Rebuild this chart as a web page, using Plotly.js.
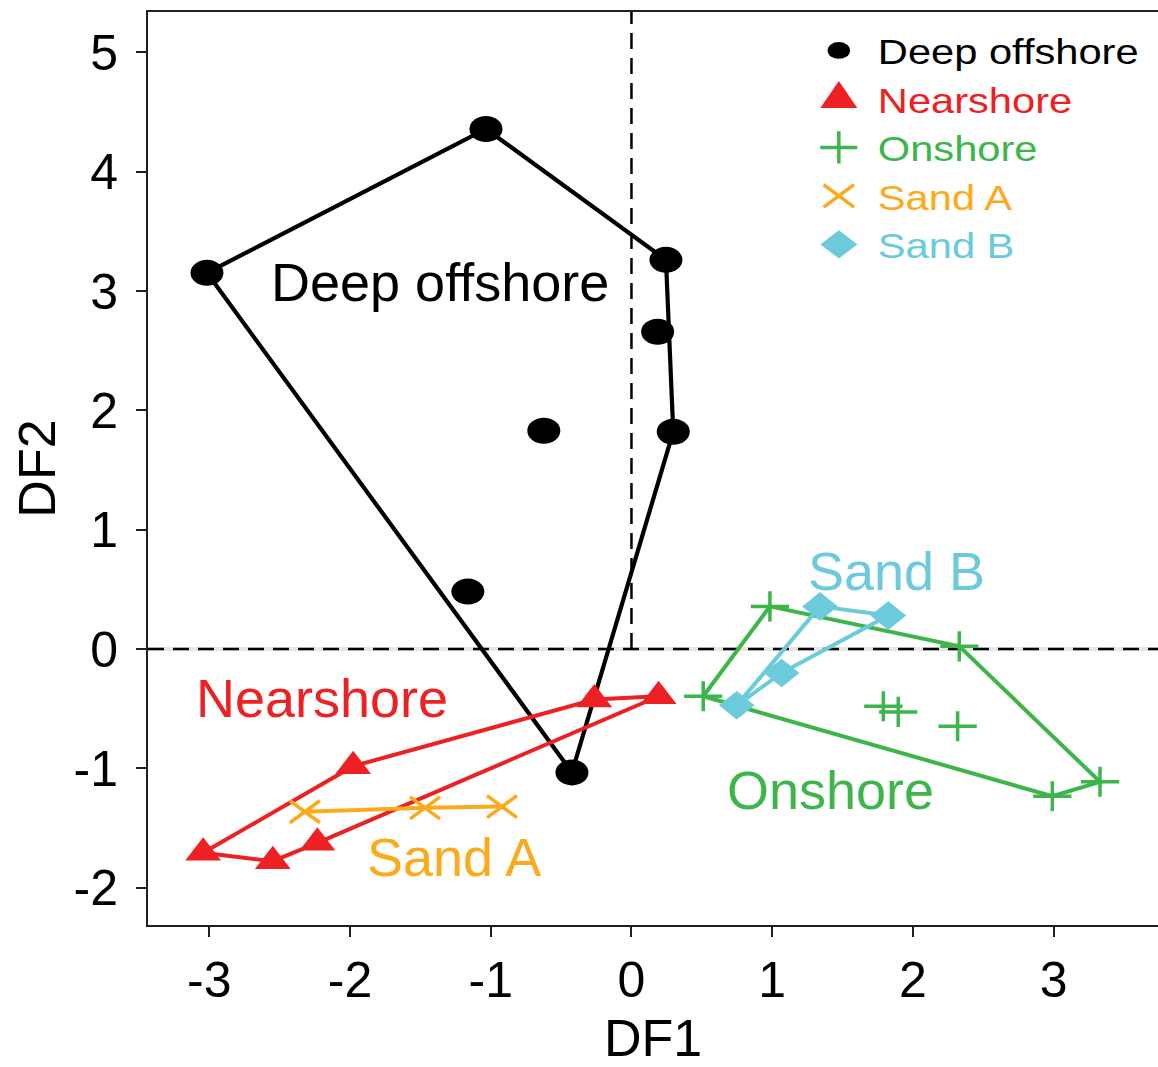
<!DOCTYPE html>
<html>
<head>
<meta charset="utf-8">
<script src="https://cdn.plot.ly/plotly-3.0.1.min.js"></script>
<style>
  html, body { margin: 0; padding: 0; background: #fff; }
  #chart { width: 1158px; height: 1067px; }
</style>
</head>
<body>
<div id="chart"></div>
<script>
// Discriminant function scores (DF1, DF2) per depositional setting
const deepX = [-3.017, -1.034, 0.245, 0.186, 0.297, -0.623, -1.163, -0.423];
const deepY = [3.153, 4.359, 3.262, 2.659, 1.822, 1.830, 0.482, -1.033];
const deepHull = [0, 1, 2, 4, 7, 0];

const nearX = [0.193, -0.264, -1.978, -3.044, -2.549, -2.232];
const nearY = [-0.395, -0.423, -0.981, -1.707, -1.777, -1.623];
const nearHull = [0, 1, 2, 3, 4, 5, 0];

const onX = [0.510, 0.984, 2.330, 3.330, 2.991, 1.790, 1.896, 2.318];
const onY = [-0.395, 0.358, 0.023, -1.112, -1.233, -0.479, -0.526, -0.647];
const onHull = [0, 1, 2, 3, 4, 0];

const sandAX = [-2.321, -1.467, -0.920];
const sandAY = [-1.363, -1.330, -1.320];
const sandAHull = [0, 1, 2];

const sandBX = [1.340, 1.825, 1.067, 0.748];
const sandBY = [0.358, 0.281, -0.200, -0.471];
const sandBHull = [0, 1, 2, 3, 0];

const groupNames = ['Deep offshore', 'Nearshore', 'Onshore', 'Sand A', 'Sand B'];
const xTicks = [-3, -2, -1, 0, 1, 2, 3];
const xTickText = ['-3', '-2', '-1', '0', '1', '2', '3'];
const yTicks = [-2, -1, 0, 1, 2, 3, 4, 5];
const yTickText = ['-2', '-1', '0', '1', '2', '3', '4', '5'];

const FONT = 'Liberation Sans, Arial, Helvetica, sans-serif';
const colors = {
  deep: '#000000',
  near: '#ED2024',
  on: '#3DB54A',
  sandA: '#FBAA1B',
  sandB: '#6BCBDA'
};

function pick(arr, idx) { return idx.map(i => arr[i]); }

function hullTrace(xs, ys, idx, color, width) {
  return {
    type: 'scatter', mode: 'lines',
    x: pick(xs, idx), y: pick(ys, idx),
    line: { color: color, width: width },
    showlegend: false, hoverinfo: 'skip'
  };
}

function pointTrace(xs, ys, name, color, symbol, size, lineWidth) {
  return {
    type: 'scatter', mode: 'markers',
    x: xs, y: ys,
    name: '<span style="color:' + color + '">' + name + '</span>',
    marker: {
      color: color, symbol: symbol, size: size,
      line: { color: color, width: lineWidth }
    }
  };
}

const traces = [
  hullTrace(deepX, deepY, deepHull, colors.deep, 4.2),
  hullTrace(nearX, nearY, nearHull, colors.near, 4),
  hullTrace(onX, onY, onHull, colors.on, 4),
  hullTrace(sandAX, sandAY, sandAHull, colors.sandA, 4),
  hullTrace(sandBX, sandBY, sandBHull, colors.sandB, 4),
  pointTrace(deepX, deepY, groupNames[0], colors.deep, 'circle', 26, 0),
  pointTrace(nearX, nearY, groupNames[1], colors.near, 'triangle-up', 31, 0),
  pointTrace(onX, onY, groupNames[2], colors.on, 'cross-thin', 21.5, 3.5),
  pointTrace(sandAX, sandAY, groupNames[3], colors.sandA, 'x-thin', 22, 3.5),
  pointTrace(sandBX, sandBY, groupNames[4], colors.sandB, 'diamond', 22, 0)
];

// group labels placed next to each cluster
const labelText = ['Deep offshore', 'Nearshore', 'Onshore', 'Sand A', 'Sand B'];
const labelX = [-1.361, -2.201, 1.414, -1.262, 1.883];
const labelY = [3.078, -0.406, -1.181, -1.738, 0.657];
const labelColor = [colors.deep, colors.near, colors.on, colors.sandA, colors.sandB];

const annotations = labelText.map((t, i) => ({
  x: labelX[i], y: labelY[i], xref: 'x', yref: 'y',
  text: t, showarrow: false,
  xanchor: 'center', yanchor: 'middle',
  font: { family: FONT, size: 54, color: labelColor[i] }
}));

const axisCommon = {
  showgrid: false, zeroline: false,
  showline: true, linecolor: '#231f20', linewidth: 2,
  ticks: 'outside', ticklen: 10, tickwidth: 2, tickcolor: '#231f20',
  tickfont: { family: FONT, size: 50, color: '#000' },
  tickmode: 'array',
  automargin: false
};

const xRange = [-3.436, 3.742];
const yRange = [-2.312, 5.339];

const layout = {
  width: 1158, height: 1067,
  margin: { l: 148, r: 0, t: 12, b: 142 },
  paper_bgcolor: '#fff', plot_bgcolor: '#fff',
  font: { family: FONT, color: '#000' },
  xaxis: Object.assign({}, axisCommon, {
    range: xRange, tickvals: xTicks, ticktext: xTickText, mirror: true,
    ticklabelstandoff: 0,
    title: { text: 'DF1', font: { family: FONT, size: 52, color: '#000' }, standoff: 25 }
  }),
  yaxis: Object.assign({}, axisCommon, {
    range: yRange, tickvals: yTicks, ticktext: yTickText,
    ticklabelstandoff: 8,
    title: { text: 'DF2', font: { family: FONT, size: 52, color: '#000' }, standoff: 1 }
  }),
  shapes: [
    { type: 'line', xref: 'paper', yref: 'y', x0: 0, x1: 1, y0: 0, y1: 0,
      line: { color: '#e6e6e6', width: 4 }, layer: 'below' },
    { type: 'line', xref: 'paper', yref: 'y', x0: 0, x1: 1, y0: 0, y1: 0,
      line: { color: '#000', width: 2.5, dash: '16px,9px' }, layer: 'below' },
    { type: 'line', xref: 'x', yref: 'paper', x0: 0, x1: 0, y0: (0 - yRange[0]) / (yRange[1] - yRange[0]), y1: 1,
      line: { color: '#000', width: 2.5, dash: '16px,9px' }, layer: 'below' }
  ],
  annotations: annotations,
  legend: {
    x: 0.683, xanchor: 'left', y: 0.99, yanchor: 'top',
    bgcolor: 'rgba(0,0,0,0)', borderwidth: 0,
    font: { family: FONT, size: 35, color: '#000' },
    tracegroupgap: 0
  },
  showlegend: true
};

// symbol shaping (x, y scale) for plotted markers, by trace index
const pointShape = { 5: [1.27, 1], 6: [1, 1], 7: [1.27, 1], 8: [1.36, 1], 9: [1.25, 1] };
// legend symbol shaping relative to the 16px legend marker
const legendShape = [[1.4, 1.06], [2.0, 2.25], [1.65, 1.43], [1.9, 1.4], [1.78, 1.35]];
const legendTextStretch = 1.19;

Plotly.newPlot('chart', traces, layout, { displayModeBar: false, staticPlot: true }).then(gd => {
  // widen plotted symbols
  gd.querySelectorAll('.scatterlayer .trace').forEach((g, i) => {
    const sc = pointShape[i];
    if (!sc) return;
    g.querySelectorAll('path.point').forEach(p => {
      const tr = p.getAttribute('transform') || '';
      p.setAttribute('transform', tr + ' scale(' + sc[0] + ',' + sc[1] + ')');
      p.style.vectorEffect = 'non-scaling-stroke';
    });
  });
  // legend: no clipping, larger symbols, wider text
  gd.querySelectorAll('.legend [clip-path]').forEach(e => e.removeAttribute('clip-path'));
  gd.querySelectorAll('.legend .traces').forEach((item, i) => {
    const sc = legendShape[i] || [1, 1];
    item.querySelectorAll('.legendpoints path.scatterpts').forEach(p => {
      const tr = p.getAttribute('transform') || '';
      p.setAttribute('transform', 'translate(-19,0) ' + tr + ' scale(' + sc[0] + ',' + sc[1] + ')');
      p.style.vectorEffect = 'non-scaling-stroke';
    });
    item.querySelectorAll('text.legendtext').forEach(t => {
      const x0 = parseFloat(t.getAttribute('x')) || 0;
      const tr = t.getAttribute('transform') || '';
      t.setAttribute('transform', tr + ' translate(' + x0 + ',0) scale(' + legendTextStretch + ',1) translate(' + (-x0) + ',0)');
    });
  });
});
</script>
</body>
</html>
